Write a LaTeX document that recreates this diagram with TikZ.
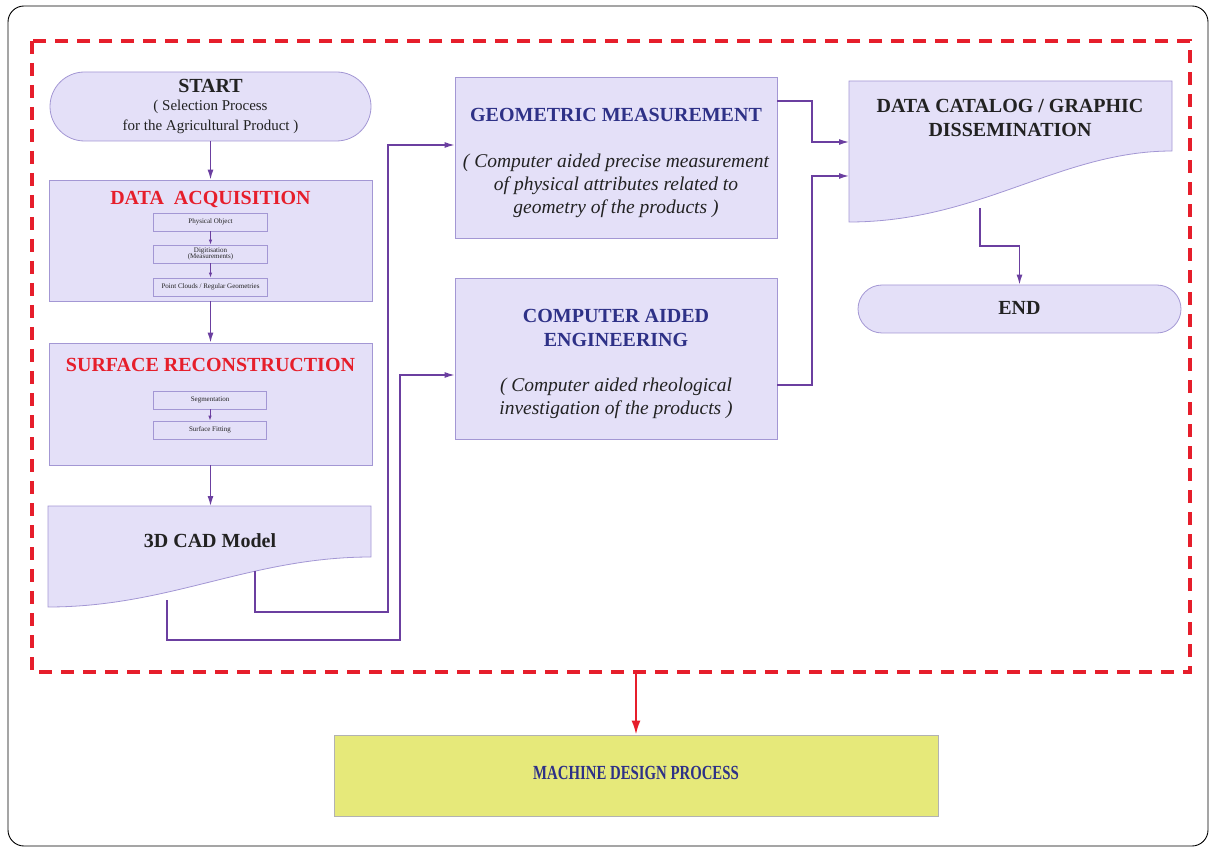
\documentclass[tikz,border=0pt]{standalone}
\usepackage{fontspec}
\setmainfont{Liberation Serif}
\usetikzlibrary{arrows.meta,shapes.misc}
\definecolor{boxfill}{HTML}{E4E0F8}
\definecolor{boxline}{HTML}{A397D4}
\definecolor{conn}{HTML}{6B3FA0}
\definecolor{redd}{HTML}{E61E2B}
\definecolor{navy}{HTML}{2E3187}
\definecolor{ttext}{HTML}{222222}
\definecolor{ylw}{HTML}{E6E97A}
\tikzset{
  lbox/.style={draw=boxline,fill=boxfill,line width=0.8pt,inner sep=0pt},
  sbox/.style={draw=boxline,fill=boxfill,line width=0.7pt,minimum width=114pt,minimum height=18pt,inner sep=0pt,font=\fontsize{7}{7.5}\selectfont,text=ttext},
  stadium/.style={draw=boxline,fill=boxfill,line width=0.8pt,rounded rectangle,inner sep=0pt},
  link/.style={draw=conn,line width=1.3pt,-{Latex[length=10pt,width=6pt]}},
  smalllink/.style={draw=conn,line width=0.9pt,-{Latex[length=5pt,width=3.5pt]}},
  redtitle/.style={text=redd,font=\fontsize{20}{22}\selectfont\bfseries},
  bluetitle/.style={text=navy,font=\fontsize{20}{24}\selectfont\bfseries,align=center},
  ital/.style={text=ttext,font=\fontsize{19.5}{23}\selectfont\itshape,align=center},
  sub/.style={text=ttext,font=\fontsize{15}{18}\selectfont},
}
\begin{document}
\begin{tikzpicture}[x=1pt,y=-1pt]
\useasboundingbox (0,0) rectangle (1213,850);
% outer frame
\draw[black,line width=0.9pt,rounded corners=16pt] (8,6) rectangle (1208,846);
% red dashed frame
\draw[redd,line width=4pt,dash pattern=on 13pt off 9pt] (32,41) rectangle (1190,672);
\coordinate (dashbot) at (636,672);

% START
\node[stadium,minimum width=321pt,minimum height=69pt] (start) at (210.5,106.5) {};
\node[text=ttext,font=\fontsize{20}{24}\selectfont\bfseries] (startt) at (210.5,86) {START};
\node[sub] (starts1) at (210.5,107) {( Selection Process};
\node[sub] (starts2) at (210.5,127) {for the Agricultural Product )};

% DATA ACQUISITION
\node[lbox,minimum width=323pt,minimum height=121pt] (daq) at (210.5,240.5) {};
\node[redtitle] (daqt) at (210.5,200) {DATA\ \ ACQUISITION};
\node[sbox] (po) at (210.5,222) {Physical Object};
\node[sbox,align=center] (dig) at (210.5,254) {Digitisation\\[-1pt](Measurements)};
\node[sbox] (pc) at (210.5,287) {Point Clouds / Regular Geometries};
\draw[smalllink] (po) -- (dig);
\draw[smalllink] (dig) -- (pc);

% SURFACE RECONSTRUCTION
\node[lbox,minimum width=323pt,minimum height=122pt] (sr) at (210.5,404) {};
\node[redtitle] (srt) at (210.5,365) {SURFACE RECONSTRUCTION};
\node[sbox,minimum width=113pt] (seg) at (210,400) {Segmentation};
\node[sbox,minimum width=113pt] (sf) at (210,430) {Surface Fitting};
\draw[smalllink] (seg) -- (sf);

% 3D CAD MODEL (document shape)
\draw[boxline,fill=boxfill,line width=0.8pt] (48,506) -- (371,506) -- (371,557)
  .. controls (250,557) and (170,607) .. (48,607) -- cycle;
\coordinate (cadtop) at (210.5,506);
\coordinate (cadA) at (255,571);
\coordinate (cadB) at (167,600);
\node[text=ttext,font=\fontsize{20}{24}\selectfont\bfseries] (cadt) at (210,541) {3D CAD Model};

% GEOMETRIC MEASUREMENT
\node[lbox,minimum width=322pt,minimum height=161pt] (geo) at (616,157.5) {};
\node[bluetitle] (geot) at (616,115) {GEOMETRIC MEASUREMENT};
\node[ital] (geoi) at (616,186) {( Computer aided precise measurement\\of physical attributes related to\\geometry of the products )};

% COMPUTER AIDED ENGINEERING
\node[lbox,minimum width=322pt,minimum height=161pt] (cae) at (616,358.5) {};
\node[bluetitle] (caet) at (616,328) {COMPUTER AIDED\\ENGINEERING};
\node[ital] (caei) at (616,398.5) {( Computer aided rheological\\investigation of the products )};

% DATA CATALOG (document shape)
\draw[boxline,fill=boxfill,line width=0.8pt] (849,81) -- (1172,81) -- (1172,151)
  .. controls (1060,151) and (980,222) .. (849,222) -- cycle;
\coordinate (catL1) at (849,142);
\coordinate (catL2) at (849,176);
\coordinate (catB) at (980,208);
\node[text=ttext,font=\fontsize{20}{24}\selectfont\bfseries,align=center] (catt) at (1010,118) {DATA CATALOG / GRAPHIC\\DISSEMINATION};

% END
\node[stadium,minimum width=323pt,minimum height=48pt] (endn) at (1019.5,309) {};
\node[text=ttext,font=\fontsize{20}{24}\selectfont\bfseries] (endt) at (1019.5,308) {END};

% MACHINE DESIGN
\node[draw=black!30,fill=ylw,line width=0.8pt,minimum width=604pt,minimum height=81pt,inner sep=0pt] (mdp) at (636,775.5) {};
\node[text=navy,font=\fontsize{20}{24}\selectfont\bfseries] (mdpt) at (636,773) {\scalebox{0.74}[1]{MACHINE DESIGN PROCESS}};

% connectors
\draw[link] (start.south) -- (daq.north);
\draw[link] (daq.south) -- (sr.north);
\draw[link] (sr.south) -- (cadtop);
\draw[link] (cadA) |- (388,612) |- ([yshift=12.5pt]geo.west);
\draw[link] (cadB) |- (400,640) |- ([yshift=-16.5pt]cae.west);
\draw[link] ([yshift=56.5pt]geo.east) -| (812,142) -- (catL1);
\draw[link] ([yshift=-26.5pt]cae.east) -| (812,176) -- (catL2);
\draw[link] (catB) |- (1019.5,246) -- (endn.north);
\draw[redd,line width=2pt,-{Latex[length=14pt,width=9pt]}] (dashbot) -- (mdp.north);
\end{tikzpicture}
\end{document}
